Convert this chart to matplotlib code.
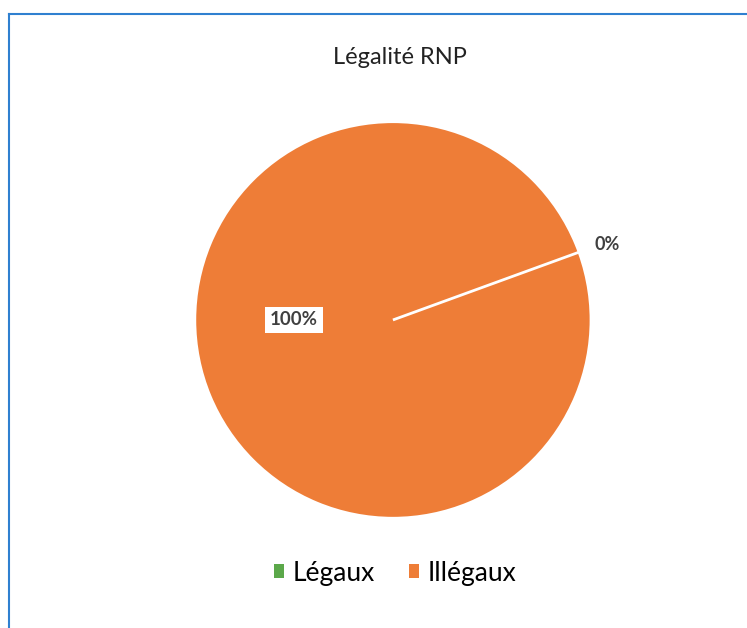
import numpy as np
import matplotlib
matplotlib.use('Agg')
import matplotlib.pyplot as plt
from matplotlib.lines import Line2D
from matplotlib.patches import Patch

plt.rcParams['font.family'] = ['Lato', 'DejaVu Sans']

categories = ['Légaux', 'Illégaux']
values = [0, 100]
pct_labels = ['0%', '100%']
colors = ['#5BA84A', '#EE7D37']

fig = plt.figure(figsize=(7.47, 6.28), dpi=100)

# frame of the chart area (cropped on right and bottom)
fig.add_artist(Line2D([9/747, 9/747], [0, 1 - 14/628], color='#2F80D0', lw=1.5))
fig.add_artist(Line2D([9/747, 1], [1 - 14/628, 1 - 14/628], color='#2F80D0', lw=1.5))

ax = fig.add_axes([0.261, 0.175, 0.530, 0.631])
start = 20
wedges, _ = ax.pie(values, colors=colors, startangle=start, counterclock=True,
                   wedgeprops=dict(edgecolor='white', linewidth=1.8))
# separator of the zero slice (a full wedge draws no radial edge)
th = np.deg2rad(wedges[1].theta1)
ax.plot([0, np.cos(th)], [0, np.sin(th)], color='white', lw=2, solid_capstyle='butt')
ax.set_xlim(-1, 1)
ax.set_ylim(-1, 1)
ax.set_aspect('auto')
ax.axis('off')

# data labels
ax.text(1.15 * np.cos(th), 1.15 * np.sin(th) - 0.01, pct_labels[0], ha='center', va='center',
        fontsize=13, fontweight='bold', color='#404040')
ax.text(-0.5, 0.0, pct_labels[1], ha='center', va='center', fontsize=13.5,
        fontweight='bold', color='#404040',
        bbox=dict(boxstyle='square,pad=0.25', fc='white', ec='none'))

fig.text(0.535, 1 - 57/628, 'Légalité RNP', ha='center', va='center', fontsize=17, color='#222222')

handles = [Patch(facecolor=c, edgecolor='none') for c in colors]
fig.legend(handles, categories, loc='center', bbox_to_anchor=(395/747, 1 - 573/628), ncol=2,
           frameon=False, fontsize=19, handlelength=0.4, handleheight=0.4,
           handletextpad=0.3, columnspacing=1.3)

fig.savefig('out.png', dpi=100, facecolor='white')
